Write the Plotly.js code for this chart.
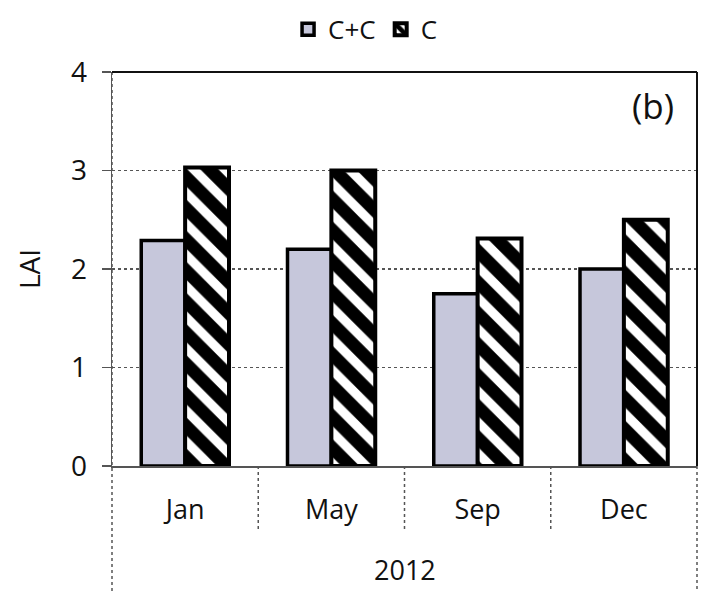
<!DOCTYPE html>
<html>
<head>
<meta charset="utf-8">
<script src="https://cdn.plot.ly/plotly-3.0.1.min.js"></script>
<style>html,body{margin:0;padding:0;background:#fff;}</style>
</head>
<body>
<div id="chart" style="width:703px;height:591px;"></div>
<script>
const months = ["Jan", "May", "Sep", "Dec"];
const yearLabel = "2012";
const seriesNames = ["C+C", "C"];
const valuesCC = [2.29, 2.2, 1.75, 2.0];
const valuesC = [3.03, 3.0, 2.31, 2.5];
const panelLabel = "(b)";
const yTitle = "LAI";

const FONT = "Open Sans, Noto Sans, sans-serif";
const gridCol = "#555555";

const traces = [
  {
    type: "bar", name: seriesNames[0], x: months, y: valuesCC,
    marker: { color: "#c6c7db", line: { color: "#000", width: 3.5 } }
  },
  {
    type: "bar", name: seriesNames[1], x: months, y: valuesC,
    marker: {
      color: "#ffffff",
      line: { color: "#000", width: 4 },
      pattern: { shape: "\\", fgcolor: "#000", bgcolor: "#fff", fgopacity: 1, size: 22, solidity: 0.58, fillmode: "replace" }
    }
  }
];

const shapes = [];
for (let i = 1; i < months.length; i++) {
  shapes.push({ type: "line", xref: "x", yref: "paper", x0: i - 0.5, x1: i - 0.5, y0: 0, y1: -0.165,
    line: { color: gridCol, width: 1.5, dash: "dot" } });
}
shapes.push({ type: "line", xref: "paper", yref: "paper", x0: 0, x1: 0, y0: 1, y1: -0.33, line: { color: gridCol, width: 1.5, dash: "dot" } });
shapes.push({ type: "line", xref: "paper", yref: "paper", x0: 1, x1: 1, y0: 0, y1: -0.33, line: { color: gridCol, width: 1.5, dash: "dot" } });
shapes.push({ type: "line", xref: "paper", yref: "paper", x0: 0, x1: 1, y0: 1, y1: 1, line: { color: "#111", width: 2 } });
shapes.push({ type: "line", xref: "paper", yref: "paper", x0: 1, x1: 1, y0: 0, y1: 1, line: { color: "#111", width: 2 } });

const layout = {
  width: 703, height: 591,
  margin: { l: 112, r: 6, t: 72, b: 125 },
  paper_bgcolor: "#fff", plot_bgcolor: "#fff",
  font: { family: FONT, size: 27, color: "#111" },
  barmode: "group", bargap: 0.4, bargroupgap: 0,
  showlegend: true,
  legend: {
    orientation: "h", xref: "container", yref: "container", x: 0.52, xanchor: "center",
    y: 0.99, yanchor: "top", font: { size: 26, family: FONT }, itemwidth: 30, tracegroupgap: 0
  },
  xaxis: {
    type: "category", showgrid: false, zeroline: false, showline: true, linecolor: gridCol, linewidth: 1.5,
    ticks: "", ticklabelstandoff: 19, tickfont: { size: 27 }
  },
  yaxis: {
    range: [0, 4], tickvals: [0, 1, 2, 3, 4], showgrid: true, gridcolor: gridCol, gridwidth: 1.5, griddash: "dot",
    zeroline: false, showline: true, linecolor: gridCol, linewidth: 1.5,
    ticks: "outside", ticklen: 9, tickcolor: gridCol, tickwidth: 1.5, ticklabelstandoff: 9,
    tickfont: { size: 28 },
    title: { text: yTitle, font: { size: 28 }, standoff: 22 }
  },
  shapes: shapes,
  annotations: [
    { text: yearLabel, xref: "paper", yref: "paper", x: 0.5, y: 0, yanchor: "bottom", yshift: -123, borderpad: 0, showarrow: false, font: { size: 27 } },
    { text: panelLabel, xref: "paper", yref: "paper", x: 0.925, xanchor: "center", y: 1, yanchor: "middle", yshift: -33, showarrow: false, font: { size: 35 } }
  ]
};

Plotly.newPlot("chart", traces, layout, { displayModeBar: false, staticPlot: true });
</script>
</body>
</html>
